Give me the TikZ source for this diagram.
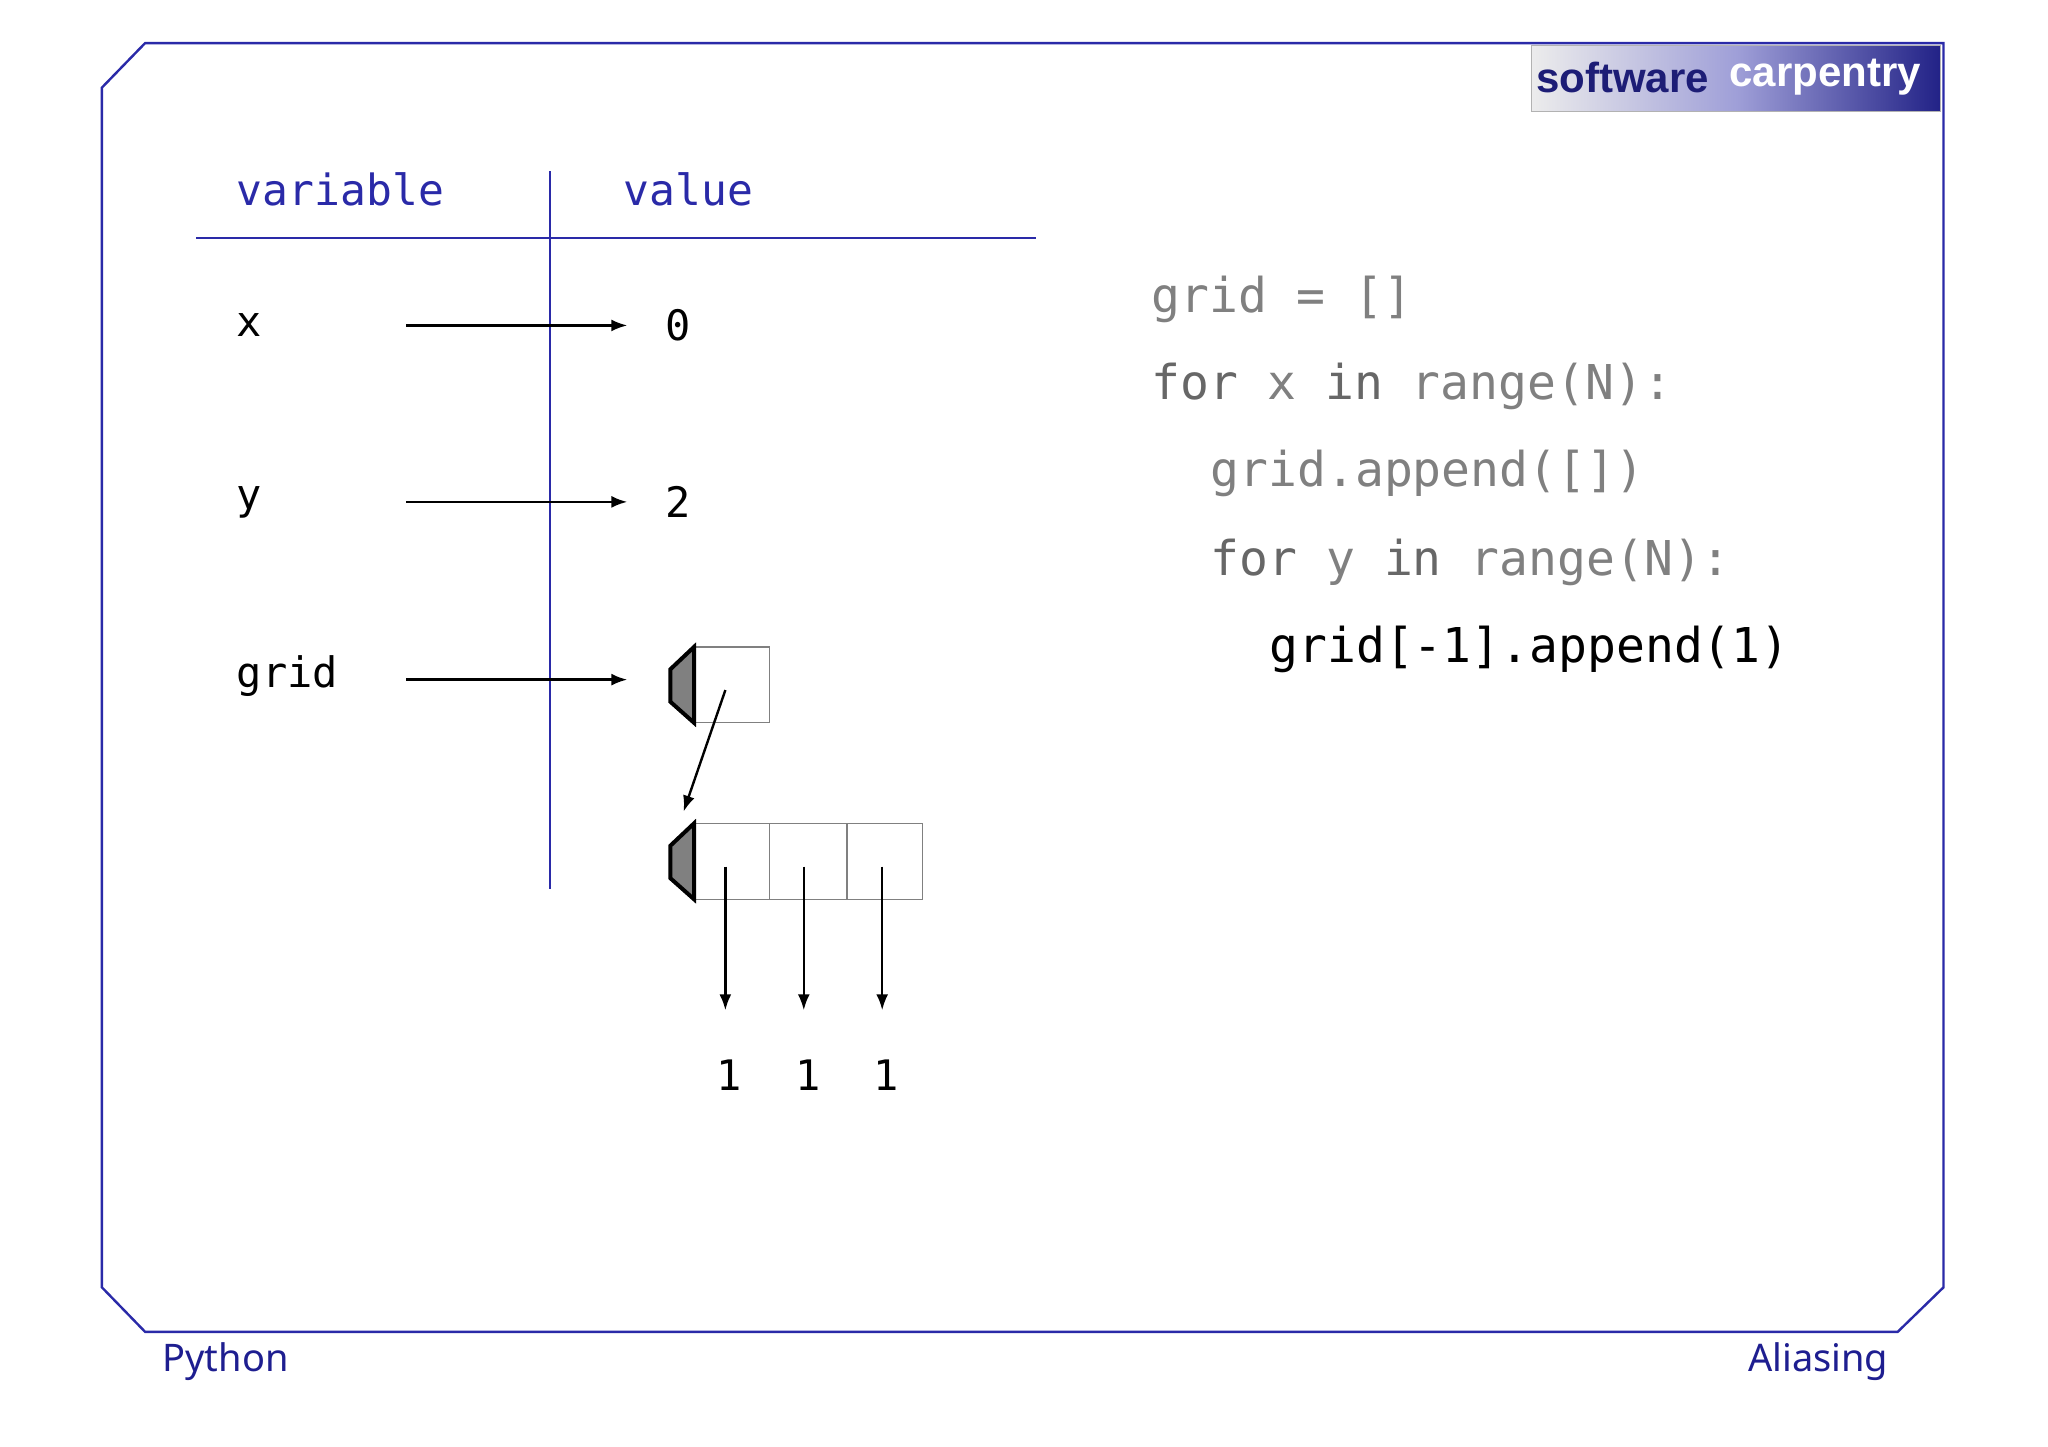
\documentclass[tikz,border=0pt]{standalone}
\usepackage{fontspec}
\setmainfont{Noto Sans}
\newfontfamily\monof{DejaVu Sans Mono}
\newfontfamily\logof{Liberation Sans}
\usetikzlibrary{arrows.meta}
\definecolor{navy}{HTML}{2A2AA8}
\definecolor{foot}{HTML}{1E1E90}
\definecolor{codegray}{HTML}{808080}
\tikzset{
 ptr/.style={-{Latex[length=8pt,width=6pt]},line width=1.2pt},
 cell/.style={draw=gray,line width=0.6pt},
 headcap/.style={draw=black,fill=gray,line width=2pt,line join=miter},
 hdr/.style={font=\monof\fontsize{21.5}{24}\selectfont,text=navy,anchor=west,inner sep=0},
 var/.style={font=\monof\fontsize{21}{24}\selectfont,anchor=west,inner sep=0},
 code/.style={font=\monof\fontsize{24}{28}\selectfont,anchor=west,inner sep=0,text=codegray},
}
\begin{document}
\begin{tikzpicture}[x=0.6535pt,y=-0.6535pt]
\useasboundingbox[fill=white] (0,0) rectangle (1567,1107);
% frame
\draw[navy,line width=1.2pt] (111,33) -- (1487,33) -- (1487,985) -- (1452,1019) -- (111,1019) -- (78,985) -- (78,67) -- cycle;
% logo
\shade[left color=white!85!gray,right color=navy!80!black,middle color=navy!45] (1172,35) rectangle (1485,85);
\draw[gray!60] (1172,35) rectangle (1485,85);
\node[font=\logof\bfseries\fontsize{21}{22}\selectfont,text=navy!70!black,anchor=west,inner sep=0] (logo1) at (1175,59) {software};
\node[font=\logof\bfseries\fontsize{21}{22}\selectfont,text=white,anchor=west,inner sep=0] (logo2) at (1323,59) {carpentry};
% table
\node[hdr] (hv) at (181,145) {variable};
\node[hdr] (hval) at (477,145) {value};
\draw[navy,line width=1pt] (150,182) -- (793,182);
\draw[navy,line width=1pt] (421,131) -- (421,680);
% variables
\node[var] (vx) at (181,249) {x};
\node[var] (vy) at (181,384) {y};
\node[var] (vg) at (181,517) {grid};
\coordinate (sx) at (311,249); \coordinate (ex) at (480,249);
\coordinate (sy) at (311,384); \coordinate (ey) at (480,384);
\coordinate (sg) at (311,520); \coordinate (eg) at (480,520);
\draw[ptr] (sx) -- (ex);
\draw[ptr] (sy) -- (ey);
\draw[ptr] (sg) -- (eg);
\node[var] (v0) at (509,249) {0};
\node[var] (v2) at (509,384) {2};
% outer list
\draw[cell] (531,495) rectangle (589,553);
\draw[headcap] (531,495) -- (513,512) -- (513,537) -- (531,553) -- cycle;
% inner list
\foreach \a/\b in {531/589,589/648,648/706} \draw[cell] (\a,630) rectangle (\b,688);
\draw[headcap] (531,630) -- (513,647) -- (513,672) -- (531,688) -- cycle;
\coordinate (o0) at (555,528); \coordinate (in) at (523,621);
\draw[ptr] (o0) -- (in);
\foreach \i/\xx in {1/555,2/615,3/675}{
 \coordinate (c\i) at (\xx,663); \coordinate (d\i) at (\xx,773);
 \draw[ptr] (c\i) -- (d\i);
 \node[var,anchor=center] (one\i) at (\xx+3,823) {1};
}
% code
\node[code] (l1) at (881,229) {grid = []};
\node[code] (l2) at (881,296) {\textcolor{codegray!80!black}{for} x \textcolor{codegray!80!black}{in} range(N):};
\node[code] (l3) at (926,362) {grid.append([])};
\node[code] (l4) at (926,430) {\textcolor{codegray!80!black}{for} y \textcolor{codegray!80!black}{in} range(N):};
\node[code,text=black] (l5) at (971,497) {grid[-1].append(1)};
% footer
\node[font=\fontsize{19}{24}\selectfont,text=foot,anchor=west,inner sep=0] (fp) at (124,1042) {Python};
\node[font=\fontsize{19}{24}\selectfont,text=foot,anchor=east,inner sep=0] (fa) at (1445,1042) {Aliasing};
\end{tikzpicture}
\end{document}
